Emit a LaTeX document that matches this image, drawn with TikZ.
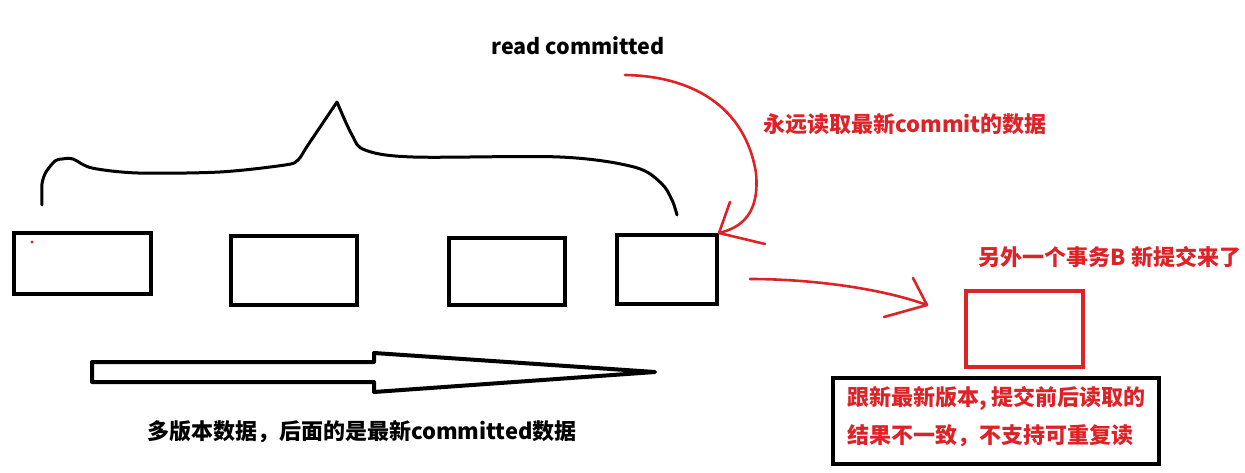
\documentclass[tikz,border=0pt]{standalone}
\usepackage{fontspec}
\setmainfont{Noto Sans CJK SC}
\usetikzlibrary{calc}
\definecolor{penred}{RGB}{221,34,40}
\tikzset{
  vbox/.style={draw=black, line width=4pt, minimum width=#1, inner sep=0pt},
  redbox/.style={draw=penred, line width=4pt, inner sep=0pt},
  ink/.style={line width=3pt, line cap=round, line join=round},
  redink/.style={draw=penred, line width=2.6pt, line cap=round, line join=round},
  lbl/.style={inner sep=0pt, anchor=center},
  big/.style={font=\bfseries\fontsize{22}{24}\selectfont},
}
\begin{document}
\begin{tikzpicture}[x=1pt, y=-1pt]
\useasboundingbox (0,0) rectangle (1245,473);
% title
\node[lbl, font=\bfseries\fontsize{21.5}{23}\selectfont] (title) at (578,46) {read committed};
% version boxes
\node[vbox=137pt, minimum height=61pt] (b1) at (82.5,263.5) {};
\node[vbox=126pt, minimum height=69pt] (b2) at (294,270.5) {};
\node[vbox=116pt, minimum height=67pt] (b3) at (507,271.5) {};
\node[vbox=100pt, minimum height=69pt] (b4) at (667,269.5) {};
\fill[penred] (32,242) circle (1.6pt);
% brace
\draw[ink] plot[smooth, tension=0.5] coordinates {(42,205) (42,184) (46,172) (55,161) (62,159) (73,159) (92,168) (138,173) (220,172) (285,165) (298,160) (308,145) (337,102)};
\draw[ink] plot[smooth, tension=0.55] coordinates {(337,102) (352,135) (365,150) (413,157) (560,157) (634,167) (661,183) (672,200) (677,215)};
% hollow arrow
\draw[line width=4pt, line join=round] (92,362) -- (374,362) -- (374,353) -- (655,372) -- (374,392) -- (374,382) -- (92,382) -- cycle;
\node[lbl, big] (multi) at (362,432) {多版本数据，后面的是最新committed数据};
% red annotation 1
\coordinate (r1s) at (625,75);
\draw[redink] (r1s) .. controls (690,76) and (745,105) .. (756,173) .. controls (760,215) and (740,228) .. (b4.north east);
\draw[redink] (730,202) -- (b4.north east) -- (765,244);
\node[lbl, big, text=penred] (always) at (905,124) {永远读取最新commit的数据};
% red annotation 2
\node[lbl, big, text=penred] (other) at (1110,257) {另外一个事务B 新提交来了};
\coordinate (r2t) at (927,305);
\draw[redink] (750,279) .. controls (810,279) and (880,288) .. (r2t);
\draw[redink] (913,278) -- (r2t) -- (884,317);
\node[redbox, minimum width=117pt, minimum height=76pt] (nb) at (1024.5,329) {};
% note box
\node[vbox=326pt, minimum height=86pt] (note) at (996,421) {};
\node[lbl, big, text=penred, anchor=west] (n1) at (847,398) {跟新最新版本, 提交前后读取的};
\node[lbl, big, text=penred, anchor=west] (n2) at (847,436) {结果不一致，不支持可重复读};
\end{tikzpicture}
\end{document}
